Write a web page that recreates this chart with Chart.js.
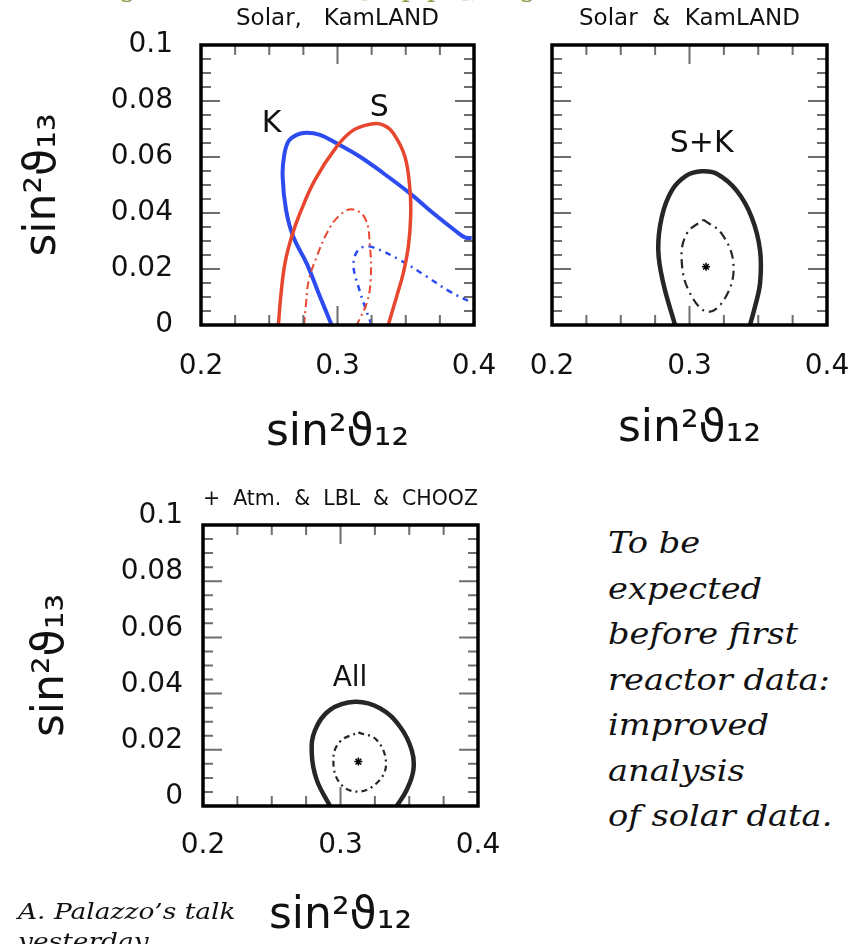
<!DOCTYPE html>
<html>
<head>
<meta charset="utf-8">
<script src="https://cdn.jsdelivr.net/npm/chart.js@4.4.1/dist/chart.umd.min.js"></script>
<style>
  html, body { margin: 0; padding: 0; background: #fff; }
  body { width: 852px; height: 944px; position: relative; overflow: hidden; }
  canvas { position: absolute; }
  #c1 { left: 0; top: 0; }
  #c2 { left: 500px; top: 0; }
  #c3 { left: 0; top: 470px; }
  .txt { position: absolute; white-space: nowrap; font-family: 'DejaVu Serif', serif; font-style: italic; color: #111; transform-origin: 0 0; }
  #header { left: 87px; top: -27px; font-size: 26px; line-height: 30px; font-style: normal; color: #8c9a48; }
  #side { left: 608px; top: 521px; font-size: 29px; line-height: 45.5px; transform: scaleX(1.16); }
  #note { left: 18px; top: 896px; font-size: 23px; line-height: 30px; transform: scaleX(1.15); }
</style>
</head>
<body>
<div id="header" class="txt">Fogli et al. 0506083 [hep-ph], Fogli et al.</div>
<canvas id="c1" width="500" height="470"></canvas>
<canvas id="c2" width="352" height="470"></canvas>
<canvas id="c3" width="500" height="474"></canvas>
<div id="side" class="txt">To be<br>expected<br>before first<br>reactor data:<br>improved<br>analysis<br>of solar data.</div>
<div id="note" class="txt">A. Palazzo’s talk<br>yesterday</div>
<script>
// axes: sin^2 theta12 (x) vs sin^2 theta13 (y)
const xTickValues = [0.2, 0.3, 0.4];
const yTickValues = [0, 0.02, 0.04, 0.06, 0.08, 0.1];
const xMinorStep = 0.025;
const yMinorStep = 0.005;

// panel 1: solar (S) and KamLAND (K) separately
const solarOuterX = [0.2567, 0.2584, 0.2615, 0.2664, 0.2725, 0.2835, 0.2994, 0.3116, 0.3250, 0.3336, 0.3409, 0.3494, 0.3531, 0.3536, 0.3519, 0.3482, 0.3433, 0.3372];
const solarOuterY = [0, 0.0101, 0.0220, 0.0315, 0.0399, 0.0518, 0.0637, 0.0696, 0.0718, 0.0714, 0.0685, 0.0601, 0.0482, 0.0387, 0.0280, 0.0185, 0.0101, 0];
const solarInnerX = [0.2755, 0.2770, 0.2790, 0.2848, 0.2921, 0.3006, 0.3104, 0.3201, 0.3238, 0.3243, 0.3214, 0.3141];
const solarInnerY = [0, 0.0080, 0.0161, 0.0244, 0.0327, 0.0387, 0.0413, 0.0382, 0.0280, 0.0161, 0.0078, 0];
const kamOuterX = [0.2957, 0.2872, 0.2774, 0.2676, 0.2623, 0.2598, 0.2608, 0.2640, 0.2701, 0.2774, 0.2872, 0.2994, 0.3165, 0.3336, 0.3531, 0.3702, 0.3873, 0.3934, 0.3983];
const kamOuterY = [0, 0.0101, 0.0220, 0.0315, 0.0411, 0.0530, 0.0601, 0.0655, 0.0679, 0.0687, 0.0679, 0.0649, 0.0601, 0.0542, 0.0470, 0.0399, 0.0333, 0.0313, 0.0310];
const kamInnerX = [0.3250, 0.3201, 0.3153, 0.3118, 0.3135, 0.3190, 0.3262, 0.3458, 0.3653, 0.3824, 0.3971];
const kamInnerY = [0, 0.0065, 0.0137, 0.0205, 0.0255, 0.0279, 0.0277, 0.0232, 0.0173, 0.0119, 0.0083];

// panel 2: solar + KamLAND
const skOuterX = [0.2895, 0.2810, 0.2773, 0.2798, 0.2871, 0.2980, 0.3089, 0.3198, 0.3343, 0.3452, 0.3513, 0.3513, 0.3476, 0.3440];
const skOuterY = [0, 0.0148, 0.0267, 0.0385, 0.0480, 0.0534, 0.0549, 0.0540, 0.0480, 0.0385, 0.0267, 0.0148, 0.0065, 0];
const skInnerX = [0.3100, 0.3234, 0.3319, 0.3271, 0.3137, 0.3004, 0.2943, 0.2980, 0.3100];
const skInnerY = [0.0376, 0.0326, 0.0220, 0.0107, 0.0047, 0.0113, 0.0231, 0.0326, 0.0376];
const skBest = [0.312, 0.0208];

// panel 3: all data
const allOuterX = [0.2924, 0.2827, 0.2791, 0.2815, 0.2924, 0.3105, 0.3287, 0.3433, 0.3518, 0.3530, 0.3481, 0.3409];
const allOuterY = [0, 0.0093, 0.0188, 0.0270, 0.0342, 0.0371, 0.0348, 0.0282, 0.0199, 0.0128, 0.0057, 0];
const allInnerX = [0.3130, 0.3263, 0.3331, 0.3275, 0.3130, 0.2996, 0.2948, 0.2996, 0.3130];
const allInnerY = [0.0262, 0.0235, 0.0152, 0.0087, 0.0051, 0.0081, 0.0164, 0.0229, 0.0262];
const allBest = [0.313, 0.0158];

const RED = '#e8472f';
const BLUE = '#2d4cf0';
const INK = '#262626';

const pts = (xs, ys) => xs.map((x, i) => ({ x, y: ys[i] }));
const fmt = v => String(+Number(v).toFixed(3));

function curve(xs, ys, color, width, dash) {
  return {
    data: pts(xs, ys), showLine: true, borderColor: color, borderWidth: width,
    borderDash: dash || [], pointRadius: 0, tension: 0.4, fill: false
  };
}
function star(p) {
  return {
    data: [{ x: p[0], y: p[1] }], showLine: false, pointStyle: 'star',
    pointRadius: 4, borderColor: '#000', borderWidth: 1.5
  };
}

// box with inward ticks on all four sides + curve labels
function framePlugin(labels) {
  return {
    id: 'frame',
    afterDatasetsDraw(chart) {
      const { ctx, chartArea: a, scales: { x, y } } = chart;
      ctx.save();
      ctx.strokeStyle = '#6e6e6e';
      ctx.lineWidth = 2;
      ctx.beginPath();
      const nx = Math.round((x.max - x.min) / xMinorStep);
      for (let k = 1; k < nx; k++) {
        const v = x.min + k * xMinorStep;
        const px = x.getPixelForValue(v);
        const len = Math.abs(v / 0.1 - Math.round(v / 0.1)) < 1e-6 ? 19 : 10;
        ctx.moveTo(px, a.top); ctx.lineTo(px, a.top + len);
        ctx.moveTo(px, a.bottom); ctx.lineTo(px, a.bottom - len);
      }
      const ny = Math.round((y.max - y.min) / yMinorStep);
      for (let k = 1; k < ny; k++) {
        const v = y.min + k * yMinorStep;
        const py = y.getPixelForValue(v);
        const len = k % 4 === 0 ? 19 : 10;
        ctx.moveTo(a.left, py); ctx.lineTo(a.left + len, py);
        ctx.moveTo(a.right, py); ctx.lineTo(a.right - len, py);
      }
      ctx.stroke();
      ctx.strokeStyle = '#000';
      ctx.lineWidth = 3.5;
      ctx.strokeRect(a.left, a.top, a.width, a.height);

      ctx.fillStyle = '#111';
      ctx.textAlign = 'center';
      ctx.textBaseline = 'middle';
      labels.forEach(l => {
        ctx.font = l.size + 'px "DejaVu Sans"';
        ctx.fillText(l.text, x.getPixelForValue(l.x), y.getPixelForValue(l.y) + 2);
      });
      ctx.restore();
    }
  };
}

function makeChart(id, p) {
  const tickFont = { family: 'DejaVu Sans', size: 28 };
  const axTitleFont = { family: 'DejaVu Sans', size: 44 };
  return new Chart(document.getElementById(id), {
    type: 'scatter',
    data: { datasets: p.datasets },
    options: {
      responsive: false,
      animation: false,
      events: [],
      layout: { padding: { left: 0, top: 0, bottom: 0, right: p.padRight } },
      plugins: {
        legend: { display: false },
        tooltip: { enabled: false },
        title: {
          display: true, text: p.title, fullSize: false, color: '#111',
          font: { family: 'DejaVu Sans', size: p.titleSize, weight: 'normal' },
          padding: p.titlePad
        }
      },
      scales: {
        x: {
          type: 'linear', min: 0.2, max: 0.4,
          afterBuildTicks: s => { s.ticks = xTickValues.map(v => ({ value: v })); },
          afterFit: s => { s.height = p.xHeight; s.paddingLeft = 0; s.paddingRight = 0; },
          grid: { display: false, drawTicks: false },
          border: { display: false },
          ticks: { padding: p.xTickPad, font: tickFont, color: '#111', maxRotation: 0, autoSkip: false, callback: fmt },
          title: { display: true, text: 'sin²ϑ₁₂', font: axTitleFont, color: '#111', padding: { top: 0, bottom: p.xTitlePad } }
        },
        y: {
          type: 'linear', min: 0, max: 0.1,
          afterBuildTicks: s => { s.ticks = yTickValues.map(v => ({ value: v })); },
          afterFit: s => { s.width = p.yWidth; s.paddingTop = 0; s.paddingBottom = 0; },
          grid: { display: false, drawTicks: false },
          border: { display: false },
          ticks: { display: p.yLabels, padding: p.yTickPad, labelOffset: p.yLabelOffset, font: tickFont, color: '#111', autoSkip: false, callback: fmt },
          title: { display: p.yLabels, text: 'sin²ϑ₁₃', font: axTitleFont, color: '#111', padding: { top: p.yTitlePad, bottom: 0 } }
        }
      }
    },
    plugins: [framePlugin(p.labels)]
  });
}

makeChart('c1', {
  title: 'Solar,   KamLAND', titleSize: 23, titlePad: { top: 5, bottom: 12.4 },
  padRight: 26, xHeight: 145, yWidth: 201,
  xTickPad: 25, yTickPad: 28, yLabelOffset: 0, xTitlePad: 9.8, yTitlePad: 17.6, yLabels: true,
  datasets: [
    curve(solarOuterX, solarOuterY, RED, 3.5),
    curve(solarInnerX, solarInnerY, RED, 2, [8, 4, 2, 4]),
    curve(kamOuterX, kamOuterY, BLUE, 4),
    curve(kamInnerX, kamInnerY, BLUE, 2.5, [6, 5, 2, 5])
  ],
  labels: [
    { text: 'K', x: 0.2518, y: 0.0726, size: 30 },
    { text: 'S', x: 0.3306, y: 0.0782, size: 30 }
  ]
});

makeChart('c2', {
  title: 'Solar  &  KamLAND', titleSize: 23, titlePad: { top: 5, bottom: 12.4 },
  padRight: 25, xHeight: 145, yWidth: 52,
  xTickPad: 25, yTickPad: 28, yLabelOffset: 0, xTitlePad: 13.8, yTitlePad: 0, yLabels: false,
  datasets: [
    curve(skOuterX, skOuterY, INK, 4.5),
    curve(skInnerX, skInnerY, INK, 2.2, [9, 5, 2, 5]),
    star(skBest)
  ],
  labels: [
    { text: 'S+K', x: 0.3089, y: 0.0652, size: 30 }
  ]
});

makeChart('c3', {
  title: '+  Atm.  &  LBL  &  CHOOZ', titleSize: 21, titlePad: { top: 17.4, bottom: 12.4 },
  padRight: 22, xHeight: 138, yWidth: 203,
  xTickPad: 22.5, yTickPad: 20, yLabelOffset: -9, xTitlePad: 0.8, yTitlePad: 25.6, yLabels: true,
  datasets: [
    curve(allOuterX, allOuterY, INK, 4.5),
    curve(allInnerX, allInnerY, INK, 2.2, [6, 4, 2, 4]),
    star(allBest)
  ],
  labels: [
    { text: 'All', x: 0.3069, y: 0.046, size: 28 }
  ]
});
</script>
</body>
</html>
